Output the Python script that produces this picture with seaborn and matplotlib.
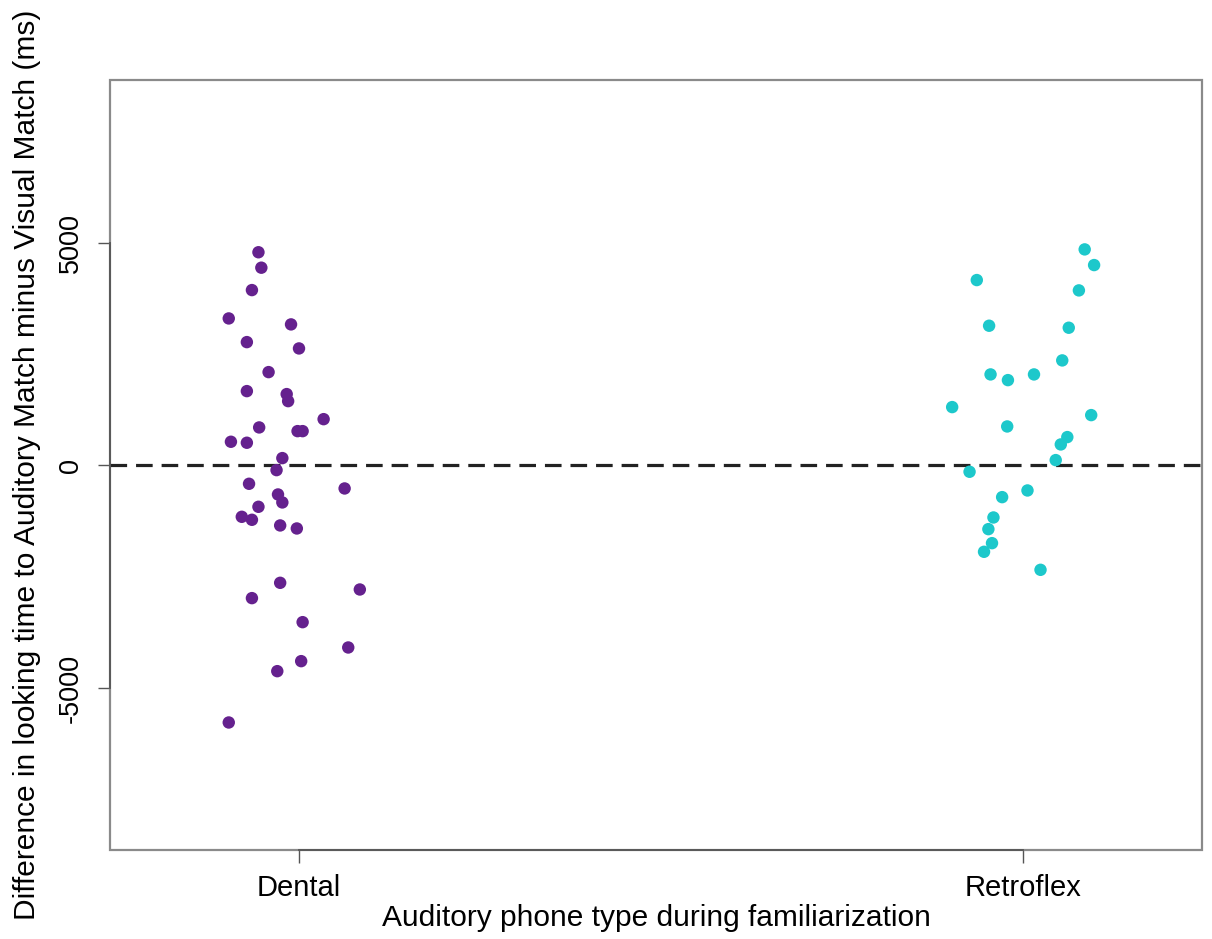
import numpy as np
import pandas as pd
import matplotlib
matplotlib.use("Agg")
import matplotlib.pyplot as plt
from matplotlib.patches import Rectangle
import seaborn as sns

# ---- data ----
categories = ["Dental", "Retroflex"]

dental_values = [4790, 4443, 3940, 3303, 3169, 2771, 2629, 2097, 1670, 1603, 1445,
                 1040, 854, 771, 771, 532, 510, 165, -105,
                 -412, -517, -652, -831, -929, -1154, -1221, -1348, -1416,
                 -2637, -2787, -2981, -3521, -4090, -4397, -4622, -5775]
dental_jitter = [-0.056, -0.052, -0.065, -0.097, -0.011, -0.072, 0.000, -0.042, -0.072, -0.017, -0.015,
                 0.034, -0.055, -0.002, 0.005, -0.094, -0.072, -0.023, -0.031,
                 -0.069, 0.063, -0.029, -0.023, -0.056, -0.079, -0.065, -0.026, -0.003,
                 -0.026, 0.084, -0.065, 0.005, 0.068, 0.003, -0.030, -0.097]

retroflex_values = [4854, 4502, 4165, 3933, 3139, 3094, 2360, 2045, 2045, 1917, 1311,
                    1131, 876, 637, 472, 120, -142,
                    -562, -712, -1169, -1431, -1746, -1940, -2345]
retroflex_jitter = [0.085, 0.098, -0.064, 0.077, -0.047, 0.063, 0.054, -0.045, 0.015, -0.021, -0.098,
                    0.094, -0.022, 0.061, 0.052, 0.045, -0.074,
                    0.006, -0.029, -0.041, -0.048, -0.043, -0.054, 0.024]

colors = {"Dental": "#65218E", "Retroflex": "#1DC8CB"}
y_ticks = [-5000, 0, 5000]
x_label = "Auditory phone type during familiarization"
y_label = "Difference in looking time to Auditory Match minus Visual Match (ms)"

# ---- table ----
df = pd.DataFrame({
    "group": ["Dental"] * len(dental_values) + ["Retroflex"] * len(retroflex_values),
    "value": dental_values + retroflex_values,
    "jitter": dental_jitter + retroflex_jitter,
})
df["pos"] = df["group"].map({c: i + 1 for i, c in enumerate(categories)}) + df["jitter"]

sns.set_theme(style="white")
plt.rcParams["font.family"] = ["Liberation Sans", "DejaVu Sans"]
plt.rcParams["text.color"] = "black"
plt.rcParams["axes.labelcolor"] = "black"
plt.rcParams["xtick.color"] = "black"
plt.rcParams["ytick.color"] = "black"

fig = plt.figure(figsize=(12.12, 9.39), dpi=100)
ax = fig.add_axes([110 / 1212, 1 - 850 / 939, (1202 - 110) / 1212, (850 - 80) / 939])

sns.scatterplot(data=df, x="pos", y="value", hue="group", palette=colors,
                s=80, linewidth=0, legend=False, ax=ax, zorder=3)

ax.axhline(0, color="#222222", lw=2.3, dashes=(5.2, 2.8), zorder=2)

ax.set_xlim(0.739, 2.247)
ax.set_ylim(-8640, 8660)
ax.set_xticks([1, 2])
ax.set_xticklabels(categories, fontsize=21)
ax.set_yticks(y_ticks)
ax.set_yticklabels([str(t) for t in y_ticks], fontsize=19.5, rotation=90, va="center")
ax.tick_params(axis="both", which="both", direction="out", length=9, width=1.0,
               color="#555555", labelcolor="black", left=True, bottom=True)
ax.tick_params(axis="x", pad=8)
ax.tick_params(axis="y", pad=10)

# box (grey) and R-style axis lines (darker) bounded at extreme ticks
for side, sp in ax.spines.items():
    sp.set_visible(side in ("left", "bottom"))
ax.spines["left"].set_bounds(-5000, 5000)
ax.spines["bottom"].set_bounds(1, 2)
for side in ("left", "bottom"):
    ax.spines[side].set_color("#555555")
    ax.spines[side].set_linewidth(1.3)
ax.add_patch(Rectangle((0, 0), 1, 1, transform=ax.transAxes, fill=False,
                       edgecolor="#8a8a8a", lw=1.6, zorder=1, clip_on=False))

ax.set_xlabel(x_label, fontsize=21.5, labelpad=2, color="black")
ax.set_ylabel(y_label, fontsize=21.5, labelpad=12, color="black")

fig.savefig("out.png", dpi=100, facecolor="white")
